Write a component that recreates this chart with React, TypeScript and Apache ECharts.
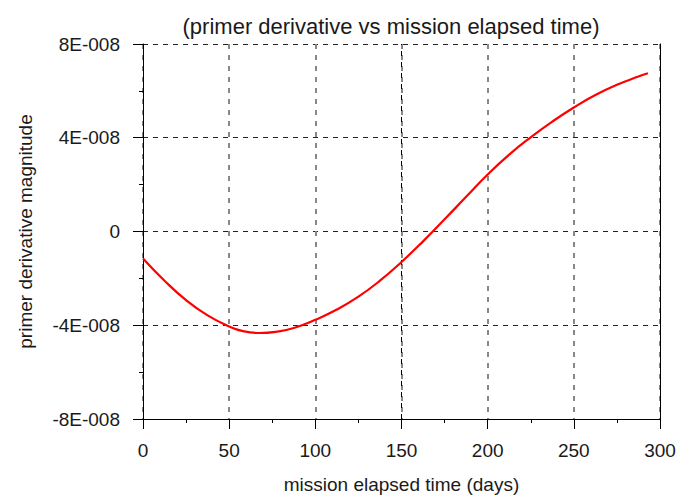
import React, { useEffect, useRef } from "react";
import * as echarts from "echarts";

const days = [0, 12.5, 25, 37.5, 50, 58, 67.5, 77, 87.5, 100, 112.5, 125, 137.5, 150, 162.5, 175, 187.5, 200, 212.5, 225, 237.5, 250, 262.5, 275, 287.5, 293];
const primerDerivative = [
  -1.15e-8, -2.1e-8, -2.93e-8, -3.58e-8, -4.05e-8, -4.25e-8, -4.33e-8, -4.28e-8, -4.12e-8, -3.77e-8,
  -3.33e-8, -2.78e-8, -2.1e-8, -1.3e-8, -0.42e-8, 0.52e-8, 1.48e-8, 2.43e-8, 3.28e-8, 4.02e-8,
  4.69e-8, 5.29e-8, 5.82e-8, 6.26e-8, 6.61e-8, 6.75e-8,
];
const titleText = "(primer derivative vs mission elapsed time)";
const xName = "mission elapsed time (days)";
const yName = "primer derivative magnitude";
const darkGridDays = [150];

const fmtY = (v: number) => {
  const n = Math.round(v / 1e-8);
  if (n === 0) return "0";
  return `${n}E-008`;
};

export default function App() {
  const ref = useRef<HTMLDivElement>(null);
  useEffect(() => {
    if (!ref.current) return;
    const chart = echarts.init(ref.current, null, { renderer: "svg" });
    const font = "'Liberation Sans', Arial, sans-serif";
    const textColor = "#1a1a1a";
    chart.setOption({
      animation: false,
      backgroundColor: "#fff",
      textStyle: { fontFamily: font },
      title: {
        text: titleText,
        left: 386,
        top: 10,
        textAlign: "center",
        textStyle: { fontFamily: font, fontSize: 22, fontWeight: "normal", color: textColor },
      },
      grid: { left: 143, right: 28, top: 44, bottom: 78, containLabel: false },
      xAxis: {
        type: "value",
        min: 0,
        max: 300,
        interval: 50,
        name: xName,
        nameLocation: "middle",
        nameGap: 56,
        nameTextStyle: { fontFamily: font, fontSize: 19, color: textColor },
        axisLine: { show: true, onZero: false, lineStyle: { color: "#000", width: 1 } },
        axisTick: { show: true, inside: false, length: 10, lineStyle: { color: "#000" } },
        minorTick: { show: true, splitNumber: 2, length: 4, lineStyle: { color: "#000" } },
        axisLabel: { fontFamily: font, fontSize: 19, color: textColor, margin: 22 },
        splitLine: { show: true, lineStyle: { color: "#888", type: [5, 6], width: 2 } },
      },
      yAxis: [
        {
          type: "value",
          min: -8e-8,
          max: 8e-8,
          interval: 4e-8,
          name: yName,
          nameLocation: "middle",
          nameGap: 108,
          nameRotate: 90,
          nameTextStyle: { fontFamily: font, fontSize: 19, color: textColor },
          axisLine: { show: true, onZero: false, lineStyle: { color: "#000", width: 1 } },
          axisTick: { show: true, inside: false, length: 10, lineStyle: { color: "#000" } },
          minorTick: { show: true, splitNumber: 2, length: 4, lineStyle: { color: "#000" } },
          axisLabel: { fontFamily: font, fontSize: 19, color: textColor, margin: 23, formatter: fmtY },
          splitLine: { show: true, lineStyle: { color: "#222", type: [5, 5], width: 1 } },
        },
        {
          type: "value",
          position: "right",
          min: -8e-8,
          max: 8e-8,
          interval: 4e-8,
          axisLine: { show: true, onZero: false, lineStyle: { color: "#000", width: 1 } },
          axisTick: { show: false },
          axisLabel: { show: false },
          splitLine: { show: false },
        },
      ],
      series: [
        {
          type: "line",
          data: days.map((d, i) => [d, primerDerivative[i]]),
          smooth: true,
          showSymbol: false,
          lineStyle: { color: "#ff0000", width: 2.2 },
          itemStyle: { color: "#ff0000" },
          z: 5,
          markLine: {
            silent: true,
            symbol: "none",
            label: { show: false },
            lineStyle: { color: "#000", type: [5, 6], width: 1 },
            data: darkGridDays.map((d) => ({ xAxis: d })),
            z: 1,
          },
        },
      ],
    });
    return () => chart.dispose();
  }, []);
  return <div ref={ref} style={{ width: 688, height: 499, position: "absolute", left: 0, top: 0 }} />;
}
